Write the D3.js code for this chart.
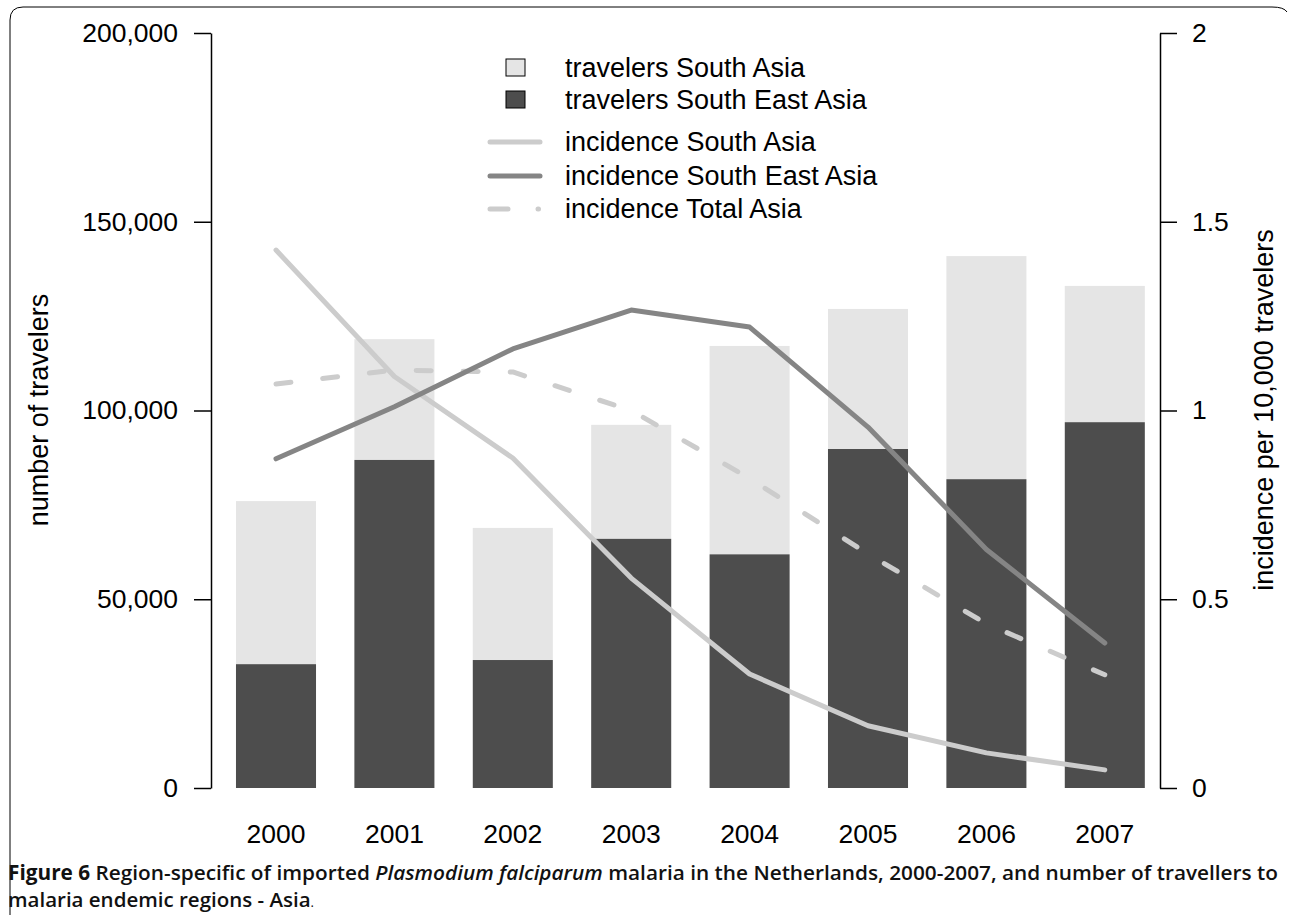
<!DOCTYPE html>
<html>
<head>
<meta charset="utf-8">
<script src="https://cdn.jsdelivr.net/npm/d3@7"></script>
<style>
  html, body { margin: 0; padding: 0; background: #fff; }
  svg { display: block; }
</style>
</head>
<body>
<svg id="chart" width="1292" height="918"></svg>
<script>
// ---- data ----
const years = ["2000", "2001", "2002", "2003", "2004", "2005", "2006", "2007"];
const travelersSEA = [32800, 86900, 33900, 66000, 61900, 89800, 81800, 96900];
const travelersSA  = [43200, 32000, 35000, 30200, 55200, 37100, 59100, 36100];
const incidenceSA    = [1.425, 1.09, 0.874, 0.556, 0.302, 0.165, 0.093, 0.048];
const incidenceSEA   = [0.872, 1.01, 1.163, 1.266, 1.221, 0.956, 0.632, 0.384];
const incidenceTotal = [1.07, 1.107, 1.102, 1.0, 0.82, 0.62, 0.435, 0.30];
const leftTicks = [0, 50000, 100000, 150000, 200000];
const rightTicks = [0, 0.5, 1, 1.5, 2];

const svg = d3.select("#chart");
const font = "'Liberation Sans', Arial, Helvetica, sans-serif";

// ---- frame (partial rounded border) ----
svg.append("path")
  .attr("d", "M10,915 Q10,912 10,905 L10,20 Q10,7 23,7 L1272,7 Q1284,7 1287,12")
  .attr("fill", "none").attr("stroke", "#000").attr("stroke-width", 1);

// ---- scales ----
const x = d3.scaleBand().domain(years).range([216.8, 1164])
  .paddingInner(0.324).paddingOuter(0.162);
const yL = d3.scaleLinear().domain([0, 200000]).range([788, 33]);
const yR = d3.scaleLinear().domain([0, 2]).range([788, 33]);

// ---- bars ----
const barsG = svg.append("g");
years.forEach((yr, i) => {
  const sea = travelersSEA[i], sa = travelersSA[i];
  barsG.append("rect")
    .attr("x", x(yr)).attr("width", x.bandwidth())
    .attr("y", yL(sea + sa)).attr("height", yL(sea) - yL(sea + sa))
    .attr("fill", "#e5e5e5");
  barsG.append("rect")
    .attr("x", x(yr)).attr("width", x.bandwidth())
    .attr("y", yL(sea)).attr("height", yL(0) - yL(sea))
    .attr("fill", "#4d4d4d");
});

// ---- lines ----
const cx = yr => x(yr) + x.bandwidth() / 2;
const line = d3.line().x(d => cx(d[0])).y(d => yR(d[1]));
function drawLine(vals, color, dash) {
  const p = svg.append("path")
    .datum(years.map((yr, i) => [yr, vals[i]]))
    .attr("d", line)
    .attr("fill", "none")
    .attr("stroke", color)
    .attr("stroke-width", 5)
    .attr("stroke-linecap", "round")
    .attr("stroke-linejoin", "round");
  if (dash) p.attr("stroke-dasharray", dash);
}
drawLine(incidenceTotal, "#cccccc", "15,32");
drawLine(incidenceSA, "#cccccc");
drawLine(incidenceSEA, "#858585");

// ---- axes ----
const axL = svg.append("g").attr("transform", "translate(211,0)")
  .call(d3.axisLeft(yL).tickValues(leftTicks).tickSize(17).tickPadding(16)
    .tickSizeOuter(0).tickFormat(d3.format(",")));
const axR = svg.append("g").attr("transform", "translate(1160,0)")
  .call(d3.axisRight(yR).tickValues(rightTicks).tickSize(17).tickPadding(15)
    .tickSizeOuter(0).tickFormat(d => String(d)));
const axX = svg.append("g").attr("transform", "translate(0,808)")
  .call(d3.axisBottom(x).tickSize(0).tickPadding(16));
axX.select(".domain").remove();
[axL, axR, axX].forEach(a => {
  a.selectAll("text").attr("font-family", font).attr("font-size", 26.5).attr("fill", "#000");
  a.selectAll("line").attr("stroke", "#000").attr("stroke-width", 1.5);
  a.select(".domain").attr("stroke", "#000").attr("stroke-width", 1.5);
});

// axis titles
svg.append("text")
  .attr("transform", "translate(48,410) rotate(-90)")
  .attr("text-anchor", "middle")
  .attr("font-family", font).attr("font-size", 27)
  .text("number of travelers");
svg.append("text")
  .attr("transform", "translate(1273,410) rotate(-90)")
  .attr("text-anchor", "middle")
  .attr("font-family", font).attr("font-size", 27)
  .text("incidence per 10,000 travelers");

// ---- legend ----
const lg = svg.append("g").attr("font-family", font).attr("font-size", 27);
const legendItems = [
  { label: "travelers South Asia", type: "box", fill: "#e5e5e5", y: 68 },
  { label: "travelers South East Asia", type: "box", fill: "#4d4d4d", y: 100 },
  { label: "incidence South Asia", type: "line", color: "#cccccc", y: 142 },
  { label: "incidence South East Asia", type: "line", color: "#858585", y: 176 },
  { label: "incidence Total Asia", type: "dash", color: "#cccccc", y: 209 }
];
legendItems.forEach(it => {
  if (it.type === "box") {
    lg.append("rect").attr("x", 506).attr("y", it.y - 9).attr("width", 19).attr("height", 17)
      .attr("fill", it.fill).attr("stroke", "#000").attr("stroke-width", 1);
  } else if (it.type === "line") {
    lg.append("line").attr("x1", 490).attr("x2", 540).attr("y1", it.y).attr("y2", it.y)
      .attr("stroke", it.color).attr("stroke-width", 5).attr("stroke-linecap", "round");
  } else {
    lg.append("line").attr("x1", 490).attr("x2", 508).attr("y1", it.y).attr("y2", it.y)
      .attr("stroke", it.color).attr("stroke-width", 5).attr("stroke-linecap", "round");
    lg.append("line").attr("x1", 538).attr("x2", 538.5).attr("y1", it.y).attr("y2", it.y)
      .attr("stroke", it.color).attr("stroke-width", 5).attr("stroke-linecap", "round");
  }
  lg.append("text").attr("x", 565).attr("y", it.y).attr("dy", "0.35em").text(it.label);
});

// ---- caption ----
const capFont = "'Open Sans', 'DejaVu Sans', sans-serif";
const cap1 = svg.append("text").attr("x", 8).attr("y", 880)
  .attr("font-family", capFont).attr("font-size", 20.5).attr("fill", "#111")
  .attr("textLength", 1270).attr("lengthAdjust", "spacingAndGlyphs");
cap1.append("tspan").attr("font-weight", "bold").text("Figure 6 ");
cap1.append("tspan").attr("font-weight", 600).text("Region-specific of imported ");
cap1.append("tspan").attr("font-weight", 600).attr("font-style", "italic").text("Plasmodium falciparum");
cap1.append("tspan").attr("font-weight", 600).text(" malaria in the Netherlands, 2000-2007, and number of travellers to");
const cap2 = svg.append("text").attr("x", 8).attr("y", 907)
  .attr("font-family", capFont).attr("font-size", 20.5).attr("fill", "#111")
  .attr("font-weight", 600)
  .attr("textLength", 306).attr("lengthAdjust", "spacingAndGlyphs");
cap2.append("tspan").text("malaria endemic regions - Asia");
cap2.append("tspan").attr("font-size", 13).attr("font-weight", 400).text(".");
</script>
</body>
</html>
